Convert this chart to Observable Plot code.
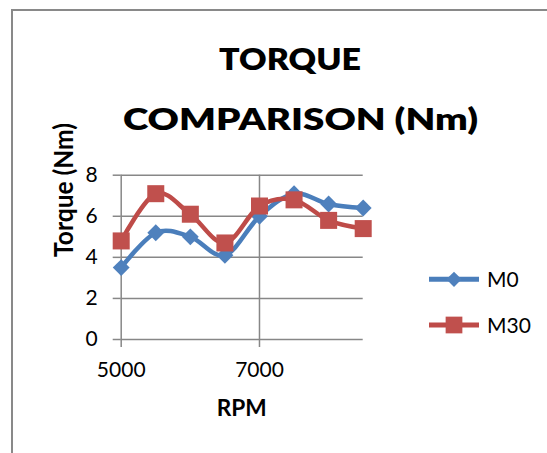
<!DOCTYPE html>
<html>
<head>
<meta charset="utf-8">
<script src="https://cdn.jsdelivr.net/npm/d3@7"></script>
<script src="https://cdn.jsdelivr.net/npm/@observablehq/plot@0.6"></script>
<style>
  html, body { margin: 0; padding: 0; background: #fff; }
  #wrap { position: relative; width: 547px; height: 453px; overflow: hidden; background: #fff; font-family: Lato, "Open Sans", sans-serif; }
  #frame { position: absolute; left: 11px; top: 9px; width: 620px; height: 520px; border: 2px solid #898989; box-sizing: border-box; }
  #chart, #overlay { position: absolute; left: 0; top: 0; }
</style>
</head>
<body>
<div id="wrap">
  <div id="frame"></div>
  <div id="chart"></div>
  <svg id="overlay" width="547" height="453"></svg>
</div>
<script>
// Engine speed (RPM) and measured torque (Nm) for the two fuel blends
const rpm = [5000, 5500, 6000, 6500, 7000, 7500, 8000, 8500];
const torqueM0 = [3.5, 5.2, 5.0, 4.1, 6.0, 7.1, 6.6, 6.4];
const torqueM30 = [4.8, 7.1, 6.1, 4.7, 6.5, 6.8, 5.8, 5.4];
const seriesNames = ["M0", "M30"];
const xTicks = [5000, 7000];
const yTicks = [0, 2, 4, 6, 8];

const colors = { M0: "#4a7ebb", M30: "#be4b48" };
const markerFill = { M0: "#4f81bd", M30: "#c0504d" };
const symbols = { M0: "diamond2", M30: "square" };
const radii = { M0: 7.6, M30: 9.6 };

const rowsM0 = rpm.map((r, i) => ({ rpm: r, torque: torqueM0[i] }));
const rowsM30 = rpm.map((r, i) => ({ rpm: r, torque: torqueM30[i] }));
const rowsBySeries = { M0: rowsM0, M30: rowsM30 };

const gridStyle = { stroke: "#878787", strokeOpacity: 1, strokeWidth: 1.5 };

const seriesMarks = seriesNames.flatMap(name => [
  Plot.line(rowsBySeries[name], {
    x: "rpm", y: "torque",
    stroke: colors[name], strokeWidth: 4.5,
    curve: "cardinal", tension: 0
  }),
  Plot.dot(rowsBySeries[name], {
    x: "rpm", y: "torque",
    symbol: symbols[name], r: radii[name],
    fill: markerFill[name], stroke: "none"
  })
]);

const chart = Plot.plot({
  width: 547,
  height: 453,
  marginLeft: 120.7,
  marginRight: 184.3,
  marginTop: 174.7,
  marginBottom: 114,
  style: { fontFamily: "Lato, 'Open Sans', sans-serif", fontSize: "21px", background: "transparent", color: "#000" },
  x: { domain: [5000, 8500] },
  y: { domain: [0, 8] },
  marks: [
    Plot.gridY(yTicks, gridStyle),
    Plot.gridX(xTicks, gridStyle),
    Plot.axisY(yTicks, { ...gridStyle, tickSize: 8, tickPadding: 15.5, label: null, fontSize: 21, fill: "#000" }),
    Plot.axisX(xTicks, { ...gridStyle, tickSize: 8, tickPadding: 15, label: null, fontSize: 21, fill: "#000", tickFormat: d => String(d) }),
    ...seriesMarks
  ]
});
document.getElementById("chart").appendChild(chart);

// Title, axis titles and legend
const svg = d3.select("#overlay");
const font = "Lato, 'Open Sans', sans-serif";

function boldText(x, y, size, width, str) {
  return svg.append("text").attr("x", x).attr("y", y)
    .attr("text-anchor", "middle").attr("font-family", font)
    .attr("font-weight", 800).attr("font-size", size)
    .attr("textLength", width).attr("lengthAdjust", "spacingAndGlyphs")
    .text(str);
}

boldText(290, 70, 31, 142, "TORQUE");
boldText(300.5, 130, 31, 355, "COMPARISON (Nm)");
boldText(241.7, 416, 22, 50, "RPM").attr("font-weight", 700);
boldText(0, 0, 27, 134, "Torque (Nm)").attr("font-weight", 700)
  .attr("transform", "translate(73,190) rotate(-90)");

const legendY = { M0: 279.3, M30: 325 };
const symbolType = { M0: d3.symbolDiamond2, M30: d3.symbolSquare };
const symbolSize = { M0: 150, M30: 280 };
seriesNames.forEach(name => {
  const g = svg.append("g").attr("transform", `translate(0,${legendY[name]})`);
  g.append("line").attr("x1", 429).attr("x2", 479).attr("y1", 0).attr("y2", 0)
    .attr("stroke", colors[name]).attr("stroke-width", 5);
  g.append("path").attr("transform", "translate(454,0)")
    .attr("d", d3.symbol(symbolType[name], symbolSize[name])())
    .attr("fill", markerFill[name]);
  g.append("text").attr("x", 487).attr("y", 7.5)
    .attr("font-family", font).attr("font-size", 21).text(name);
});
</script>
</body>
</html>
